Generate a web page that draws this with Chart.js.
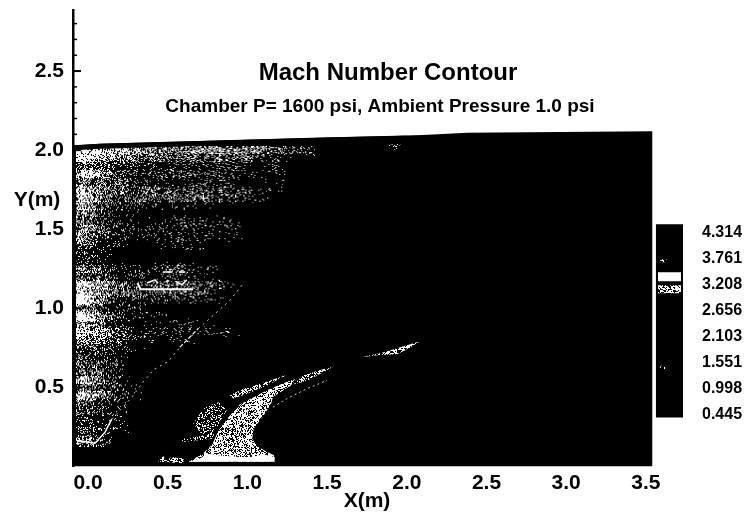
<!DOCTYPE html>
<html>
<head>
<meta charset="utf-8">
<script src="https://cdn.jsdelivr.net/npm/chart.js@4"></script>
<style>html,body{margin:0;padding:0;background:#fff}canvas{display:block}</style>
</head>
<body>
<canvas id="c" width="747" height="517"></canvas>
<script>
const titleText = 'Mach Number Contour';
const subtitleText = 'Chamber P= 1600 psi, Ambient Pressure 1.0 psi';
const xTitle = 'X(m)';
const yTitle = 'Y(m)';
const xTicks = [0, 0.5, 1, 1.5, 2, 2.5, 3, 3.5];
const yTicks = [0.5, 1, 1.5, 2, 2.5];
const yMinorTicks = [0.1,0.2,0.3,0.4,0.6,0.7,0.8,0.9,1.1,1.2,1.3,1.4,1.6,1.7,1.8,1.9,2.1,2.2,2.3,2.4,2.6,2.7,2.8];
const colorbarLevels = [4.314, 3.761, 3.208, 2.656, 2.103, 1.551, 0.998, 0.445];

// Outline of the computed flow field
const fieldOutline = [[-0.088,2.03],[0.075,2.04],[1.52,2.08],[2.10,2.095],[2.38,2.11],[3.54,2.12],[3.54,0],[-0.088,0]];
const fieldTopEdge = [[-0.088,2.015],[0.075,2.025],[1.52,2.065],[2.0,2.075]];

// Speckle level (0-9): columns at gridX, rows at gridY
const gridX = [-0.025,0.075,0.175,0.275,0.375,0.475,0.575,0.675,0.775,0.875,0.975,1.075,1.175,1.275,1.375];
const gridY = [2.00,1.95,1.90,1.85,1.80,1.75,1.70,1.65,1.60,1.55,1.50,1.45,1.40,1.35,1.30,1.25,1.20,1.15,1.10,1.05,1.00,0.95,0.90,0.85,0.80,0.75,0.70,0.65,0.60,0.55,0.50,0.45,0.40,0.35,0.30,0.25,0.20,0.15];
const machRows = [
 [8,7,7,6,6,5,5,6,6,5,5,5,4,2,3],
 [8,7,5,4,3,3,3,4,3,3,3,1,1,0,0],
 [3,3,2,2,1,1,1,1,1,1,1,0,1,0,0],
 [7,6,3,2,2,2,2,2,2,1,1,1,1,0,0],
 [4,3,3,2,1,1,1,1,1,1,0,0,1,0,0],
 [7,5,4,3,3,2,2,3,2,2,2,1,1,0,0],
 [7,4,3,3,3,2,3,3,3,2,2,1,0,0,0],
 [6,3,2,1,1,1,1,1],
 [6,3,1,1],
 [4,2,1,1,0,1,1,1,1,1],
 [5,3,1,1,1,1,1,1,1,1],
 [6,2,1,1,1,1,1,1,1,1],
 [4,1,1,0,0,1,1,1],
 [2,1],
 [2,1],
 [5,3,2,1,1,2,3,1,1],
 [3,2,1,1,1,1,1,1],
 [8,6,3,2,2,3,3,2,3,1],
 [7,5,3,3,3,3,3,3,1],
 [9,4,1,1,1,1,1,1,1],
 [5,2,1,1],
 [9,5,2,1,1,1],
 [6,3,1,1,0,1,1,1],
 [7,6,4,2,1,1,1,1,1,1],
 [5,4,3,1,1,0,1],
 [4,3,1,1],
 [2,1,1],
 [4,2,2],
 [3,3,1],
 [7,4,1],
 [3,3,2,1],
 [8,5,2,1],
 [3,1,1],
 [3,2,1],
 [3,1,1],
 [3,1,1],
 [3,2,1],
 [6,2]
];

// Plume regions in axis units
const mainPlume = [[.63,.03],[.72,.08],[.78,.14],[.82,.23],[.88,.31],[.95,.39],[1.04,.44],[1.14,.49],[1.26,.54],[1.31,.555],[1.27,.51],[1.16,.44],[1.15,.40],[1.10,.32],[1.04,.24],[1.03,.175],[1.06,.13],[1.11,.10],[1.17,.07],[1.17,.03]];
const plumeBase = [[.63,.03],[.70,.05],[.765,.08],[.83,.07],[.95,.06],[1.02,.06],[1.10,.076],[1.17,.06],[1.17,.03]];
const upperStreak = [[.89,.45],[.97,.49],[1.10,.53],[1.25,.58],[1.12,.51],[1.0,.46],[.91,.43]];
const rightStreak = [[1.29,.52],[1.35,.575],[1.455,.61],[1.54,.63],[1.455,.585],[1.39,.55],[1.33,.53]];
const faintPlume = [[.66,.27],[.73,.375],[.83,.41],[.87,.355],[.81,.25],[.78,.175],[.59,.155],[.59,.175],[.72,.195]];
const baseBlob = [[.44,.03],[.47,.07],[.49,.04],[.525,.06],[.60,.05],[.60,.02]];
const farStreak = [[1.71,.69],[1.85,.72],[1.98,.76],[2.08,.79],[2.02,.75],[1.94,.71],[1.83,.705]];
const topSpeck = [[1.88,2.03],[1.97,2.05],[1.94,2.01],[1.91,2.0]];

// Thin features in axis units
const shockBright = [[-0.06,.165],[.044,.147],[.107,.217],[.149,.30]];
const shockBright2 = [[.577,.755],[.69,.87]];
const shockDotted = [[.149,.30],[.22,.375],[.284,.45],[.337,.523],[.41,.61],[.504,.665],[.577,.755],[.69,.87],[.786,.956],[.89,1.05],[.974,1.156]];
const plumeLowerEdge = [[1.16,.375],[1.25,.43],[1.37,.49],[1.50,.545]];
const blobLine = [[.31,1.16],[.33,1.12],[.66,1.12]];
const blobMarks = [[.37,1.16],[.42,1.18],[.44,1.16],null,[.47,1.23],[.53,1.23],null,[.57,1.23],[.61,1.23],null,[.55,1.17],[.59,1.15],[.62,1.18],null,[.49,1.17],[.51,1.175]];

// Colour bar, in Mach units on its own axis
const barBox = [[3.563,4.484],[3.733,4.484],[3.733,0.381],[3.563,0.381]];
const barWhite = [[3.576,3.464],[3.72,3.464],[3.72,3.273],[3.576,3.273]];
const barSpeckle = [[3.576,3.188],[3.72,3.188],[3.72,3.017],[3.576,3.017]];
const barDotHigh = [[3.59,3.74],[3.63,3.74],[3.63,3.68],[3.59,3.68]];
const barDotLow = [[3.59,1.48],[3.62,1.48],[3.62,1.40],[3.59,1.40]];

/* ---------- halftone textures (style only) ---------- */
function grain(x, y) {
  let n = (Math.imul(x, 374761393) + Math.imul(y, 668265263)) | 0;
  n = Math.imul(n ^ (n >>> 13), 1274126177);
  return ((n ^ (n >>> 16)) >>> 0) / 4294967296;
}
const coverage = v => Math.pow(Math.max(0, v) / 9, 1.15);
const lvl = (r, c) => { const row = machRows[r]; if (!row) return 0; return row[Math.max(c, 0)] || 0; };
function cellTile(r, c) {
  const w = 16, h = 8, t = document.createElement('canvas'); t.width = w; t.height = h;
  const g = t.getContext('2d'); g.fillStyle = '#fff';
  let any = false;
  for (let j = 0; j < h; j++) for (let i = 0; i < w; i++) {
    const fx = (i + .5) / w - .5, fy = (j + .5) / h - .5;
    const c2 = c + (fx < 0 ? -1 : 1), r2 = r + (fy < 0 ? -1 : 1);
    const wx = Math.abs(fx), wy = Math.abs(fy) * 0.5;
    const v = (1 - wy) * ((1 - wx) * lvl(r, c) + wx * lvl(r, c2)) + wy * ((1 - wx) * lvl(r2, c) + wx * lvl(r2, c2));
    if (grain(c * w + i, r * h + j) < coverage(v)) { g.fillRect(i, j, 1, 1); any = true; }
  }
  return any ? t : null;
}
function patternFor(level) {
  const t = document.createElement('canvas'); t.width = 64; t.height = 64;
  const g = t.getContext('2d'); g.fillStyle = '#fff';
  for (let j = 0; j < 64; j++) for (let i = 0; i < 64; i++)
    if (grain(i + 1000 * level, j + 500) < coverage(level)) g.fillRect(i, j, 1, 1);
  return pctx.createPattern(t, 'repeat');
}
const pctx = document.getElementById('c').getContext('2d');
const patterns = [];
for (let l = 0; l <= 9; l++) patterns.push(patternFor(l));

const pts = a => a.map(p => p ? {x: p[0], y: p[1]} : {x: null, y: null});
const polygon = (label, a, fillStyle, order, yAxisID) => ({
  type: 'scatter', label, data: pts(a), showLine: true, fill: 'shape', tension: 0,
  backgroundColor: fillStyle, borderWidth: 0, borderColor: 'transparent', pointRadius: 0, order,
  yAxisID: yAxisID || 'y', clip: false
});
const stroke = (label, a, color, width, dash, order) => ({
  type: 'scatter', label, data: pts(a), showLine: true, fill: false, tension: 0, spanGaps: false,
  borderColor: color, borderWidth: width, borderDash: dash || [], pointRadius: 0, order, backgroundColor: 'transparent', clip: false
});

const cells = [], tiles = [];
gridY.forEach((yv, r) => gridX.forEach((xv, c) => {
  const t = cellTile(r, c);
  if (t) { cells.push({x: xv, y: yv}); tiles.push(t); }
}));

const datasets = [
  polygon('field', fieldOutline, '#000', 100),
  { type: 'scatter', label: 'speckle', data: cells, order: 60, pointRadius: 6, borderWidth: 0,
    pointStyle: ctx => tiles[ctx.dataIndex] || 'circle', clip: false },
  polygon('faintPlume', faintPlume, patterns[3], 50),
  polygon('baseBlob', baseBlob, patterns[6], 50),
  polygon('mainPlume', mainPlume, patterns[6], 49),
  polygon('plumeBase', plumeBase, patterns[9], 48),
  polygon('upperStreak', upperStreak, patterns[5], 48),
  polygon('rightStreak', rightStreak, patterns[5], 48),
  polygon('farStreak', farStreak, patterns[6], 48),
  polygon('topSpeck', topSpeck, patterns[3], 48),
  stroke('shockDotted', shockDotted, 'rgba(255,255,255,.8)', 1, [2, 4], 40),
  stroke('shockBright', shockBright, '#fff', 1.5, [], 39),
  stroke('shockBright2', shockBright2, '#fff', 1.2, [4, 2], 39),
  stroke('plumeLowerEdge', plumeLowerEdge, 'rgba(255,255,255,.8)', 1, [2, 3], 40),
  stroke('blobLine', blobLine, '#fff', 2, [], 39),
  stroke('blobMarks', blobMarks, '#fff', 1.5, [], 39),
  stroke('fieldTopEdge', fieldTopEdge, '#000', 5, [], 10),
  polygon('barBox', barBox, '#000', 100, 'yBar'),
  polygon('barWhite', barWhite, '#fff', 80, 'yBar'),
  polygon('barSpeckle', barSpeckle, patterns[6], 80, 'yBar'),
  polygon('barDotHigh', barDotHigh, patterns[5], 80, 'yBar'),
  polygon('barDotLow', barDotLow, patterns[3], 80, 'yBar')
];

const FONT = '"Liberation Sans", Arial, sans-serif';
const annotate = {
  id: 'annotate',
  afterDraw(chart) {
    const g = chart.ctx, ys = chart.scales.y, left = chart.chartArea.left;
    g.save();
    g.strokeStyle = '#000';
    g.lineWidth = 2;
    yTicks.forEach(v => { const p = ys.getPixelForValue(v); g.beginPath(); g.moveTo(left, p); g.lineTo(left + 8, p); g.stroke(); });
    g.lineWidth = 1.5;
    yMinorTicks.forEach(v => { const p = ys.getPixelForValue(v); g.beginPath(); g.moveTo(left, p); g.lineTo(left + 4, p); g.stroke(); });
    g.fillStyle = '#000';
    g.textBaseline = 'middle';
    g.textAlign = 'center';
    g.font = 'bold 24px ' + FONT;
    g.fillText(titleText, 388, 73);
    g.font = 'bold 19px ' + FONT;
    g.fillText(subtitleText, 380, 107);
    g.font = 'bold 21px ' + FONT;
    g.fillText(xTitle, 367, 501);
    g.fillText(yTitle, 37, 200);
    g.restore();
  }
};

const noScalePad = s => { s.paddingTop = 0; s.paddingBottom = 0; };
new Chart(document.getElementById('c'), {
  type: 'scatter',
  data: { datasets },
  plugins: [annotate],
  options: {
    responsive: false, animation: false, normalized: false,
    layout: { padding: { top: 10, left: 0, right: 0, bottom: 0 } },
    plugins: { legend: { display: false }, tooltip: { enabled: false }, title: { display: false } },
    scales: {
      x: {
        type: 'linear', min: -0.0941, max: 3.7767,
        grid: { display: false, drawTicks: false }, border: { display: false },
        afterBuildTicks: s => { s.ticks = xTicks.map(value => ({value})); },
        afterFit: s => { s.height = 50.5; s.paddingLeft = 0; s.paddingRight = 0; },
        ticks: { color: '#000', font: { family: FONT, size: 21, weight: 'bold' }, padding: 4, maxRotation: 0, autoSkip: false, callback: v => v.toFixed(1) }
      },
      y: {
        type: 'linear', position: 'left', min: 0, max: 2.886,
        grid: { display: false, drawTicks: false }, border: { display: true, color: '#000', width: 2.5 },
        afterBuildTicks: s => { s.ticks = yTicks.map(value => ({value})); },
        afterFit: s => { s.width = 73; noScalePad(s); },
        ticks: { color: '#000', font: { family: FONT, size: 21, weight: 'bold' }, padding: 9, autoSkip: false, callback: v => v.toFixed(1) }
      },
      yBar: {
        type: 'linear', position: 'right', min: -0.66, max: 9.034,
        grid: { display: false, drawTicks: false }, border: { display: false },
        afterBuildTicks: s => { s.ticks = colorbarLevels.map(value => ({value})); },
        afterFit: s => { s.width = 57; noScalePad(s); },
        ticks: { color: '#000', font: { family: FONT, size: 16, weight: 'bold' }, padding: 12, autoSkip: false, callback: v => v.toFixed(3) }
      }
    }
  }
});
</script>
</body>
</html>
